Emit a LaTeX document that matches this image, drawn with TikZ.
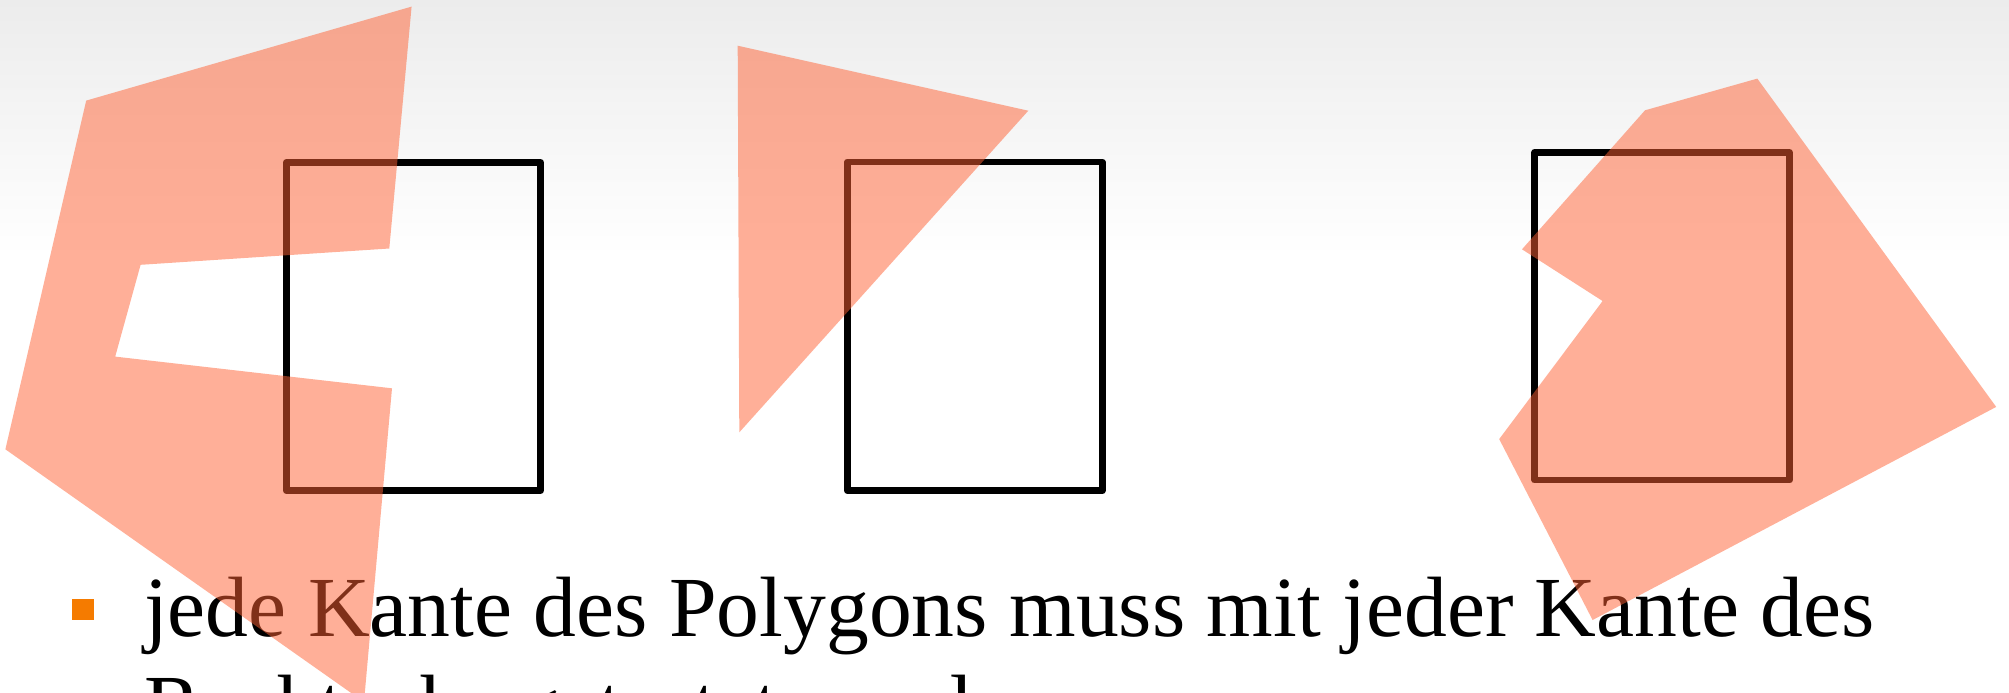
\documentclass[tikz,border=0pt]{standalone}
\usepackage{fontspec}
\setmainfont{Liberation Serif}
\definecolor{bgtop}{RGB}{236,236,236}
\definecolor{salmon}{RGB}{255,96,50}
\definecolor{bulletorange}{RGB}{245,123,0}
\begin{document}
\begin{tikzpicture}[x=0.5pt,y=-0.5pt,
  poly/.style={fill=salmon, fill opacity=0.5, draw=none},
  frame/.style={draw=black, line width=3.35pt, line join=round},
  txt/.style={anchor=base west, inner sep=0pt, outer sep=0pt, font=\fontsize{42.8}{49}\selectfont},
  bulletbox/.style={fill=bulletorange, draw=none}]
\useasboundingbox (0,0) rectangle (2009,692);
\clip (0,0) rectangle (2009,692);
\fill[white] (0,0) rectangle (2009,692);
\shade[top color=bgtop, bottom color=white] (0,0) rectangle (2009,256);
% rectangles
\draw[frame] (286.2,162.4) rectangle (540.6,490.7);
\draw[frame] (847.3,162.0) rectangle (1102.3,490.7);
\draw[frame] (1534.8,152.3) rectangle (1789.4,480.1);
% text
\fill[bulletbox] (72,599) rectangle (93.7,620);
\node[txt] (line1) at (144,636) {jede Kante des Polygons muss mit jeder Kante des};
\node[txt] (line2) at (144,734.4) {Rechtecks getestet werden};
% polygons
\fill[poly] (411.6,6.6) -- (86.2,100.6) -- (5.4,449.3) -- (364,702) -- (392,388.3) -- (115.2,356.6) -- (140.6,264.8) -- (389.3,248.5) -- cycle;
\fill[poly] (737.7,45.7) -- (1028.3,110.7) -- (739.3,432.3) -- cycle;
\fill[poly] (1757.3,78.6) -- (1645,110.3) -- (1522,249.3) -- (1602.6,301) -- (1499.2,439.1) -- (1592.6,620) -- (1996.2,406.9) -- cycle;
\end{tikzpicture}
\end{document}
